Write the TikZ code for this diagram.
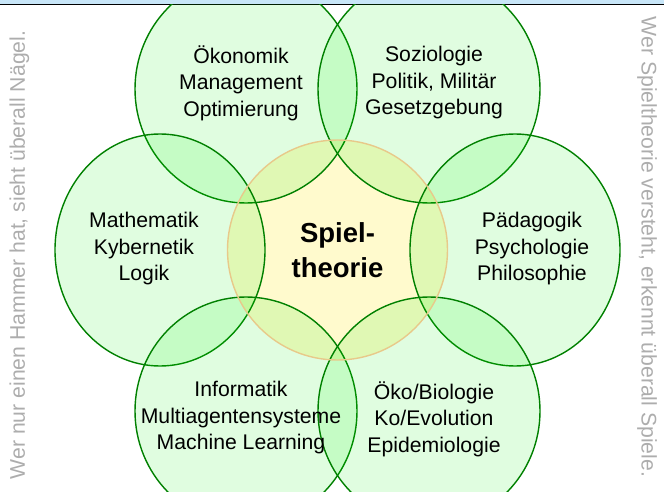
\documentclass[tikz,border=0pt]{standalone}
\usepackage{fontspec}
\setmainfont{Liberation Sans}
\usepackage{tikz}
\definecolor{spGreen}{HTML}{008000}
\definecolor{spGreenBg}{HTML}{00F000}
\definecolor{spYellowBg}{HTML}{FFFACD}
\definecolor{spOrange}{HTML}{E8C98A}
\definecolor{spGrey}{HTML}{ADADAD}
\definecolor{spBlueBar}{HTML}{C8E6F8}
\tikzset{
  feld/.style={draw=spGreen, line width=0.7pt, fill=spGreenBg, fill opacity=0.12},
  kern/.style={fill=spYellowBg},
  kernrand/.style={draw=spOrange, line width=0.7pt},
  thema/.style={align=center, inner sep=0pt, font=\fontsize{10.6}{13.25}\selectfont},
  kerntext/.style={align=center, inner sep=0pt, font=\fontsize{13.75}{17.5}\selectfont\bfseries},
  spruch/.style={inner sep=0pt, text=spGrey, font=\fontsize{10.6}{13}\selectfont},
}

\begin{document}
\begin{tikzpicture}[x=0.5pt, y=-0.5pt]
\useasboundingbox (0,0) rectangle (664,492);
% Kopfleiste
\fill[spBlueBar] (0,0) rectangle (664,4.5);
\draw[line width=0.5pt] (0,4.5) -- (664,4.5);

% Kreise
\begin{scope}
\clip (0,5) rectangle (664,492);
\fill[kern] (337.5,250) circle [radius=110];
\draw[feld] (246,89) ellipse [x radius=111, y radius=114];
\draw[feld] (429,89) ellipse [x radius=111, y radius=114];
\draw[feld] (160,250) ellipse [x radius=105, y radius=116];
\draw[feld] (515,250) ellipse [x radius=105, y radius=116];
\draw[feld] (246,411) ellipse [x radius=111, y radius=114];
\draw[feld] (429,411) ellipse [x radius=111, y radius=114];
\draw[kernrand] (337.5,250) circle [radius=110];
\end{scope}

% Mitte
\node[kerntext] (kern) at (337.5,250) {Spiel-\\theorie};

% Anwendungsfelder
\node[thema] (oeko) at (241,83) {Ökonomik\\Management\\Optimierung};
\node[thema] (sozio) at (434,83) {Soziologie\\Politik, Militär\\Gesetzgebung};
\node[thema] (mathe) at (144,249) {Mathematik\\Kybernetik\\Logik};
\node[thema] (paed) at (532,249) {Pädagogik\\Psychologie\\Philosophie};
\node[thema] (info) at (241,418) {Informatik\\Multiagentensysteme\\Machine Learning};
\node[thema] (bio) at (434,419) {Öko/Biologie\\Ko/Evolution\\Epidemiologie};

% Randsprueche
\node[spruch, rotate=90] (hammer) at (19.5,255) {Wer nur einen Hammer hat, sieht überall Nägel.};
\node[spruch, rotate=-90] (spiele) at (647,247) {Wer Spieltheorie versteht, erkennt überall Spiele.};
\end{tikzpicture}
\end{document}
